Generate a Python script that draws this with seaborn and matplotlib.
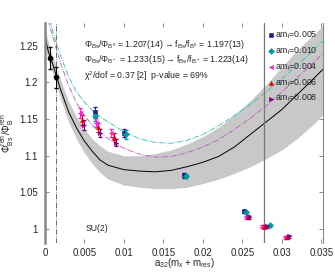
import numpy as np
import pandas as pd
import matplotlib
matplotlib.use("Agg")
import matplotlib.pyplot as plt
import seaborn as sns

# data points, one list per sea-quark ensemble
am_labels = ["am$_l$=0.005", "am$_l$=0.010", "am$_l$=0.004", "am$_l$=0.006", "am$_l$=0.008"]
series_x = [
    [0.0063, 0.0100, 0.0176, 0.0252],
    [0.0064, 0.0103, 0.0179, 0.0254, 0.0285],
    [0.0045, 0.0065, 0.0084, 0.0255, 0.0275, 0.0304],
    [0.0047, 0.0067, 0.0087, 0.0257, 0.0278, 0.0307],
    [0.0050, 0.0070, 0.0090, 0.0259, 0.0281, 0.0309],
]
series_y = [
    [1.159, 1.131, 1.073, 1.024],
    [1.154, 1.129, 1.072, 1.023, 1.005],
    [1.158, 1.145, 1.131, 1.016, 1.003, 0.989],
    [1.149, 1.139, 1.126, 1.017, 1.003, 0.989],
    [1.142, 1.131, 1.118, 1.016, 1.004, 0.990],
]
series_err = [
    [0.007, 0.006, 0.003, 0.002],
    [0.007, 0.006, 0.003, 0.002, 0.002],
    [0.007, 0.006, 0.005, 0.002, 0.002, 0.002],
    [0.007, 0.006, 0.005, 0.002, 0.002, 0.002],
    [0.007, 0.006, 0.005, 0.002, 0.002, 0.002],
]
series_colors = ["#1c1c8c", "#009a9a", "#ff22cc", "#e00000", "#800080"]
series_markers = ["s", "D", "<", "^", ">"]

# extrapolated points
phys_x = [0.0007, 0.00146]
phys_y = [1.233, 1.207]
phys_err = [0.015, 0.014]

# fit curve with error band
fit_x = [0.0001, 0.0004, 0.0007, 0.001, 0.0015, 0.002, 0.003, 0.004, 0.005, 0.006, 0.007,
         0.008, 0.010, 0.012, 0.014, 0.016, 0.018, 0.020, 0.022, 0.024, 0.026, 0.028,
         0.030, 0.032, 0.034, 0.0352]
fit_y = [1.258, 1.244, 1.233, 1.225, 1.207, 1.190, 1.160, 1.138, 1.120, 1.106, 1.094,
         1.087, 1.081, 1.079, 1.078, 1.080, 1.085, 1.091, 1.099, 1.112, 1.129, 1.146,
         1.163, 1.184, 1.205, 1.218]
band_hi = [1.270, 1.256, 1.245, 1.236, 1.219, 1.203, 1.174, 1.153, 1.136, 1.123, 1.113,
           1.106, 1.100, 1.100, 1.103, 1.108, 1.116, 1.126, 1.139, 1.156, 1.175, 1.197,
           1.221, 1.245, 1.265, 1.278]
band_lo = [1.246, 1.232, 1.221, 1.213, 1.195, 1.177, 1.146, 1.123, 1.104, 1.089, 1.077,
           1.068, 1.060, 1.057, 1.055, 1.055, 1.057, 1.062, 1.068, 1.076, 1.085, 1.096,
           1.108, 1.124, 1.143, 1.156]

# fixed sea-mass curves
cyan_x = [0.0006, 0.0012, 0.002, 0.003, 0.004, 0.005, 0.006, 0.007, 0.008, 0.010, 0.012,
          0.014, 0.016, 0.018, 0.020, 0.022, 0.024, 0.026, 0.028, 0.030, 0.032,
          0.034, 0.0352]
cyan_y = [1.285, 1.262, 1.236, 1.208, 1.187, 1.173, 1.162, 1.153, 1.146, 1.133, 1.123,
          1.118, 1.117, 1.121, 1.129, 1.141, 1.155, 1.170, 1.187, 1.205, 1.224,
          1.244, 1.257]
mag_x = [0.0004, 0.001, 0.002, 0.003, 0.004, 0.005, 0.006, 0.007, 0.008, 0.010,
         0.012, 0.014, 0.016, 0.018, 0.020, 0.022, 0.024, 0.026, 0.028, 0.030,
         0.032, 0.034, 0.0352]
mag_y = [1.285, 1.262, 1.226, 1.196, 1.172, 1.155, 1.142, 1.131, 1.123, 1.110,
         1.102, 1.098, 1.099, 1.104, 1.112, 1.122, 1.136, 1.151, 1.168, 1.187,
         1.207, 1.227, 1.240]

sns.set_style("ticks")
plt.rcParams["font.family"] = ["Liberation Sans", "DejaVu Sans"]
plt.rcParams["mathtext.default"] = "regular"

fig = plt.figure(figsize=(3.35, 2.72), dpi=100)
ax = fig.add_axes([0.134, 0.107, 0.830, 0.808])

ax.fill_between(fit_x, band_lo, band_hi, color="#c8c8c8", lw=0, zorder=1)
sns.lineplot(x=fit_x, y=fit_y, ax=ax, color="black", lw=0.7, zorder=2)
sns.lineplot(x=cyan_x, y=cyan_y, ax=ax, color="#33bbbb", lw=0.6,
             linestyle="-.", zorder=2)
sns.lineplot(x=mag_x, y=mag_y, ax=ax, color="#bb55bb", lw=0.6,
             linestyle="-.", zorder=2)

ax.axvline(0.00146, color="#555555", lw=0.6, linestyle="-.", zorder=2)
ax.axvline(0.0278, color="#777777", lw=0.9, zorder=2)

ax.errorbar(phys_x, phys_y, yerr=phys_err, fmt="o", color="black", ms=3,
            elinewidth=0.7, capsize=1.5, zorder=4)

for lab, xs, ys, es, c, m in zip(am_labels, series_x, series_y, series_err,
                                 series_colors, series_markers):
    ax.errorbar(xs, ys, yerr=es, fmt="none", ecolor=c, elinewidth=0.7,
                capsize=1.5, zorder=4)
    sns.scatterplot(x=xs, y=ys, ax=ax, color=c, marker=m, s=9,
                    edgecolor=c, linewidth=0.4, label=lab, zorder=5)

ax.set_xlim(0, 0.0352)
ax.set_ylim(0.981, 1.281)
ax.set_xticks([0, 0.005, 0.01, 0.015, 0.02, 0.025, 0.03, 0.035])
ax.set_xticklabels(["0", "0.005", "0.01", "0.015", "0.02", "0.025", "0.03", "0.035"])
ax.set_yticks([1, 1.05, 1.1, 1.15, 1.2, 1.25])
ax.set_yticklabels(["1", "1.05", "1.1", "1.15", "1.2", "1.25"])
ax.tick_params(direction="in", top=True, right=True, length=3, width=0.6,
               color="#777777", labelsize=7)
ax.tick_params(axis="x", pad=3.5)
ax.tick_params(axis="y", pad=5)
for s in ["top", "bottom"]:
    ax.spines[s].set_visible(False)
ax.spines["left"].set_color("#888888")
ax.spines["left"].set_linewidth(1.8)
ax.spines["right"].set_color("#888888")
ax.spines["right"].set_linewidth(0.8)

ax.set_xlabel("$a_{32}(m_x + m_{res})$", fontsize=7, labelpad=-1)
ax.set_ylabel("$\\Phi^{ren}_{Bs}/\\Phi^{ren}_{B}$", fontsize=7, labelpad=2)

ax.text(0.0049, 1.252, "$\\Phi_{Bs}/\\Phi_{B^0}$ = 1.207(14)$\\rightarrow$$f_{Bs}/f_{B^0}$ = 1.197(13)",
        fontsize=6.3, va="center")
ax.text(0.0049, 1.232, "$\\Phi_{Bs}/\\Phi_{B^-}$ = 1.233(15)$\\rightarrow$$f_{Bs}/f_{B^-}$ = 1.223(14)",
        fontsize=6.3, va="center")
ax.text(0.0049, 1.209, "$\\chi^2$/dof = 0.37 [2]  p-value = 69%", fontsize=6.3, va="center")
ax.text(0.0051, 1.001, "SU(2)", fontsize=6.3, va="center")

ax.legend(loc="upper right", bbox_to_anchor=(1.0, 0.995), frameon=False,
          fontsize=6.3, handletextpad=0.1, borderaxespad=0.2,
          labelspacing=0.5, handlelength=0.8)

fig.savefig("out.png", dpi=100)
